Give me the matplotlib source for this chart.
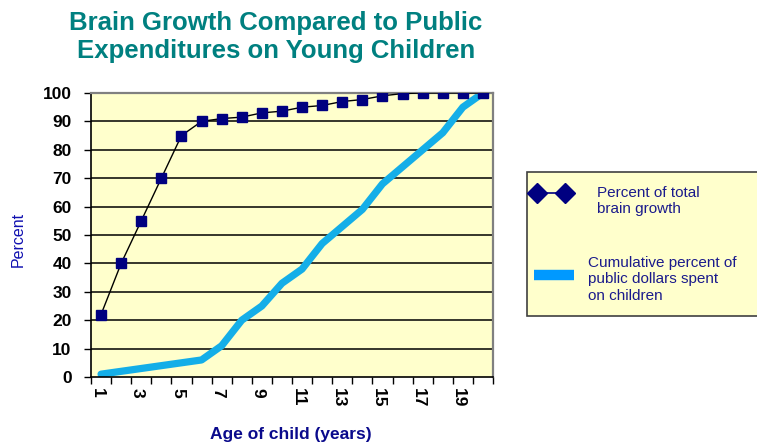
import matplotlib
matplotlib.use("Agg")
import matplotlib.pyplot as plt
from matplotlib.patches import Rectangle
from matplotlib.lines import Line2D
from matplotlib.transforms import Bbox, ScaledTranslation

ages = list(range(1, 21))
brain_growth = [22, 40, 55, 70, 85, 90, 91, 91.5, 93, 93.6, 95, 95.6, 97, 97.7, 99, 99.8, 100, 100, 100, 100]
public_dollars = [1, 2, 3, 4, 5, 6, 11, 20, 25, 33, 38, 47, 53, 59, 68, 74, 80, 86, 95, 100]
x_labels = [str(a) for a in range(1, 20, 2)]
y_ticks = list(range(0, 101, 10))

title = "Brain Growth Compared to Public\nExpenditures on Young Children"
legend_labels = ["Percent of total\nbrain growth", "Cumulative percent of\npublic dollars spent\non children"]

plt.rcParams['font.family'] = ['Liberation Sans', 'DejaVu Sans']

W, H = 757, 443
fig = plt.figure(figsize=(W / 100, H / 100), dpi=100)
fig.patch.set_facecolor('white')

def fx(px):
    return px / W

def fy(py):
    return 1 - py / H

left, right, top, bottom = 91, 493, 93, 377
ax = fig.add_axes([fx(left), fy(bottom), fx(right) - fx(left), fy(top) - fy(bottom)])
ax.set_facecolor('#FFFFCC')

ax.set_xlim(0.5, 20.5)
ax.set_ylim(0, 100)

for g in y_ticks[1:-1]:
    ax.axhline(g, color='black', lw=1.1, zorder=1)

ax.plot(ages, public_dollars, color='#14AEE8', lw=5.2, solid_capstyle='round',
        solid_joinstyle='round', zorder=2)
ax.plot(ages, brain_growth, color='black', lw=1.0, marker='s', markersize=7.5,
        markerfacecolor='#000080', markeredgecolor='#000080', zorder=3)

ax.set_yticks(y_ticks)
ax.set_yticklabels([str(v) for v in y_ticks], fontsize=12.5, fontweight='bold')
ax.tick_params(axis='y', direction='out', length=5, width=1, pad=9)

ax.set_xticks([i + 0.5 for i in range(0, 21)])
ax.set_xticklabels([])
ax.tick_params(axis='x', which='major', direction='out', length=5, width=1)
ax.set_xticks(list(range(1, 20, 2)), minor=True)
ax.set_xticklabels(x_labels, minor=True, rotation=-90, fontsize=12.5, fontweight='bold')
ax.tick_params(axis='x', which='minor', length=0, pad=8)
shift = ScaledTranslation(-4 / 100, 0, fig.dpi_scale_trans)
for lab in ax.xaxis.get_minorticklabels():
    lab.set_transform(lab.get_transform() + shift)

for s in ['left', 'bottom']:
    ax.spines[s].set_color('black')
    ax.spines[s].set_linewidth(1.2)
for s in ['top', 'right']:
    ax.spines[s].set_color('#808080')
    ax.spines[s].set_linewidth(1.6)

fig.text(fx(291), fy(434), "Age of child (years)", ha='center', va='center',
         fontsize=12.5, fontweight='bold', color='#0A0A8C')
fig.text(fx(18), fy(239), "Percent", ha='center', va='center', rotation=90,
         fontsize=11.5, color='#1010B0')

fig.text(fx(276), fy(37), title, ha='center', va='center', fontsize=18.5,
         fontweight='bold', color='#008080', linespacing=1.25)

# legend box
box = Rectangle((fx(527), fy(316)), fx(770) - fx(527), fy(172) - fy(316),
                transform=fig.transFigure, facecolor='#FFFFCC', edgecolor='#404040',
                lw=1.2, zorder=0)
fig.patches.append(box)
fig.add_artist(Line2D([fx(537), fx(565)], [fy(193), fy(193)], transform=fig.transFigure,
                      color='#000080', lw=1.2, marker='D', markersize=10,
                      markerfacecolor='#000080', markeredgecolor='#000080'))
fig.add_artist(Line2D([fx(534), fx(574)], [fy(275), fy(275)], transform=fig.transFigure,
                      color='#0099FF', lw=7.5, solid_capstyle='butt'))
fig.text(fx(597), fy(201), legend_labels[0], ha='left', va='center', fontsize=11,
         color='#1A1A8C', linespacing=1.15)
t2 = fig.text(fx(588), fy(256), legend_labels[1], ha='left', va='top', fontsize=11,
              color='#1A1A8C', linespacing=1.22)
clip = Bbox.from_extents(0, (H - 304), W, H)
t2.set_clip_box(clip)
t2.set_clip_on(True)

fig.savefig('out.png', dpi=100, facecolor='white')
